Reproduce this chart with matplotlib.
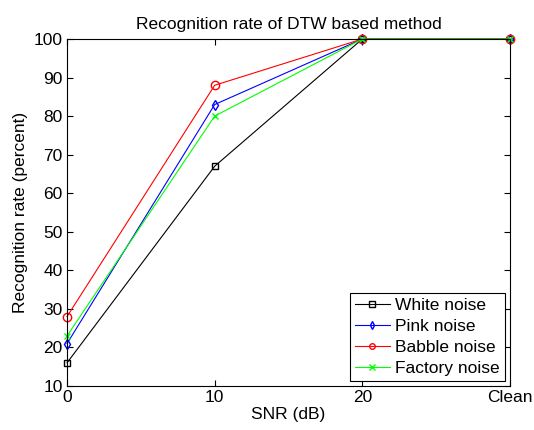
import matplotlib
matplotlib.use('Agg')
import matplotlib.pyplot as plt

plt.rcParams['font.family'] = ['Liberation Sans', 'DejaVu Sans']

# x positions: 0, 10, 20 dB and clean speech
snr = [0, 10, 20, 30]
snr_labels = ['0', '10', '20', 'Clean']

white = [16, 67, 100, 100]
pink = [21, 83, 100, 100]
babble = [28, 88, 100, 100]
factory = [23, 80, 100, 100]

fig = plt.figure(figsize=(5.34, 4.30), dpi=100)
ax = fig.add_axes([0.1255, 0.1023, 0.8295, 0.807])

ax.plot(snr, white, color='k', marker='s', mfc='none', ms=5, lw=0.8, label='White noise', clip_on=False)
ax.plot(snr, pink, color='b', marker='d', mfc='none', ms=5, lw=0.8, label='Pink noise', clip_on=False)
ax.plot(snr, babble, color='r', marker='o', mfc='none', ms=6, lw=0.8, label='Babble noise', clip_on=False)
ax.plot(snr, factory, color=(0, 1, 0), marker='x', ms=4, lw=0.8, label='Factory noise', clip_on=False)

ax.set_xlim(0, 30)
ax.set_ylim(10, 100)
ax.set_xticks(snr)
ax.set_xticklabels(snr_labels)
ax.set_yticks(range(10, 101, 10))
ax.tick_params(direction='in', labelsize=12.5, length=4, top=True, right=True, pad=3)
for s in ax.spines.values():
    s.set_linewidth(0.8)

ax.set_xlabel('SNR (dB)', fontsize=12.5, labelpad=1)
ax.set_ylabel('Recognition rate (percent)', fontsize=12.5, labelpad=4)
ax.set_title('Recognition rate of DTW based method', fontsize=12.5, pad=7)

leg = ax.legend(loc='lower right', fontsize=12.5, fancybox=False, edgecolor='k',
                framealpha=1, borderaxespad=0.3, handlelength=2.0,
                handletextpad=0.3, labelspacing=0.32, borderpad=0.3)
leg.get_frame().set_linewidth(0.8)
for h in leg.legend_handles:
    h.set_markersize(4)

fig.savefig('out.png', dpi=100)
